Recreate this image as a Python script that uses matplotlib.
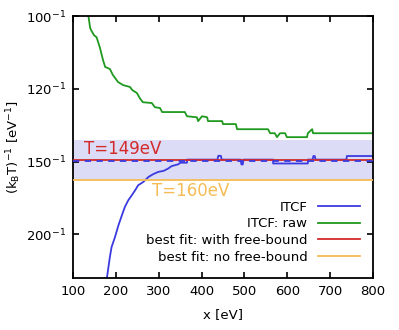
import numpy as np
import matplotlib
matplotlib.use("Agg")
import matplotlib.pyplot as plt

plt.rcParams['font.family'] = ['DejaVu Sans']
plt.rcParams['mathtext.default'] = 'regular'

# ITCF: raw (green) -- x [eV], temperature T [eV]
raw_x = [136, 140, 142, 149, 155, 163, 170, 175, 186, 193, 205, 217, 233, 238, 249, 256, 263, 284, 291, 303,
         308, 361, 366, 389, 392, 401, 413, 415, 448, 450, 480, 483, 555, 560, 571, 576, 583, 595, 599, 646,
         648, 658, 660, 800]
raw_T = [100.0, 102.8, 103.3, 104.6, 105.1, 107.9, 111.2, 113.2, 113.8, 115.6, 117.8, 118.8, 119.4, 120.4,
         121.4, 123.2, 124.6, 124.9, 126.4, 126.7, 128.2, 128.2, 129.8, 130.2, 131.7, 129.8, 130.2, 131.7,
         131.7, 132.9, 132.9, 135.0, 135.0, 136.7, 136.7, 138.4, 136.7, 136.7, 138.4, 138.4, 136.7, 135.0,
         136.7, 136.7]

# ITCF (blue)
itcf_x = [178, 186, 190, 198, 206, 214, 221, 229, 237, 245, 252, 264, 276, 287, 299, 311, 322, 330, 346, 350,
          366, 366, 437, 439, 445, 447, 491, 493, 496, 498, 567, 567, 648, 648, 659, 661, 664, 666, 738, 739,
          800]
itcf_T = [255, 223.3, 212.4, 202.5, 192.1, 184.0, 177.7, 173.0, 169.7, 166.4, 163.3, 161.3, 158.4, 156.8,
          155.5, 155.0, 153.7, 152.4, 151.4, 150.6, 150.6, 149.0, 149.0, 147.1, 147.1, 149.0, 149.0, 151.5,
          151.5, 149.0, 149.0, 151.0, 151.0, 149.0, 149.0, 147.2, 147.2, 149.0, 149.0, 147.2, 147.2]

T_fit_fb = 149.0      # best fit with free-bound
T_fit_nofb = 160.0    # best fit no free-bound
T_itcf_mean = 149.7   # dashed ITCF level
band_T = [139.5, 160.0]

yticks_T = [100, 120, 150, 200]
xticks = [100, 200, 300, 400, 500, 600, 700, 800]

c_blue = '#3a3ae0'
c_green = '#1f9a1f'
c_red = '#d42a2a'
c_orange = '#f5bc55'
c_band = '#dcdcf6'

fig = plt.figure(figsize=(3.99, 3.30), dpi=100)
ax = fig.add_axes([73/399, 1-278/330, 300/399, 262/330])

inv = lambda arr: 1.0/np.asarray(arr, dtype=float)

ax.axhspan(1/band_T[1], 1/band_T[0], color=c_band, lw=0, zorder=0)
ax.plot(itcf_x, inv(itcf_T), color=c_blue, lw=1.3, label='ITCF', zorder=2)
ax.plot(raw_x, inv(raw_T), color=c_green, lw=1.3, label='ITCF: raw', zorder=2)
ax.axhline(1/T_fit_fb, color=c_red, lw=1.3, label='best fit: with free-bound', zorder=3)
ax.axhline(1/T_fit_nofb, color=c_orange, lw=1.3, label='best fit: no free-bound', zorder=3)
ax.axhline(1/T_itcf_mean, color=c_blue, lw=1.3, ls=(0, (3.5, 3)), zorder=4)

ax.text(126, 0.00695, 'T=149eV', color=c_red, fontsize=12, va='center', ha='left')
ax.text(284, 0.00599, 'T=160eV', color=c_orange, fontsize=12, va='center', ha='left')

ax.set_xlim(100, 800)
ax.set_ylim(1/250, 1/100)
ax.set_xticks(xticks)
ax.set_xticklabels([str(v) for v in xticks])
ax.set_yticks(inv(yticks_T))
ax.set_yticklabels([r'$%d^{-1}$' % v for v in yticks_T])
ax.tick_params(direction='in', top=True, right=True, length=4.5, width=1.2, labelsize=9.5, pad=5)
for s in ax.spines.values():
    s.set_linewidth(1.3)

ax.set_xlabel('x [eV]', fontsize=9.5, labelpad=7)
ax.set_ylabel(r'(k$_B$T)$^{-1}$ [eV$^{-1}$]', fontsize=9.5)
ax.yaxis.set_label_coords(-0.168, 0.5)

leg = ax.legend(loc='lower right', bbox_to_anchor=(0.957, 0.055), markerfirst=False, frameon=False,
                fontsize=9.5, handlelength=3.2, handletextpad=0.8, labelspacing=0.27, borderpad=0,
                borderaxespad=0)

fig.savefig('out.png', dpi=100)
